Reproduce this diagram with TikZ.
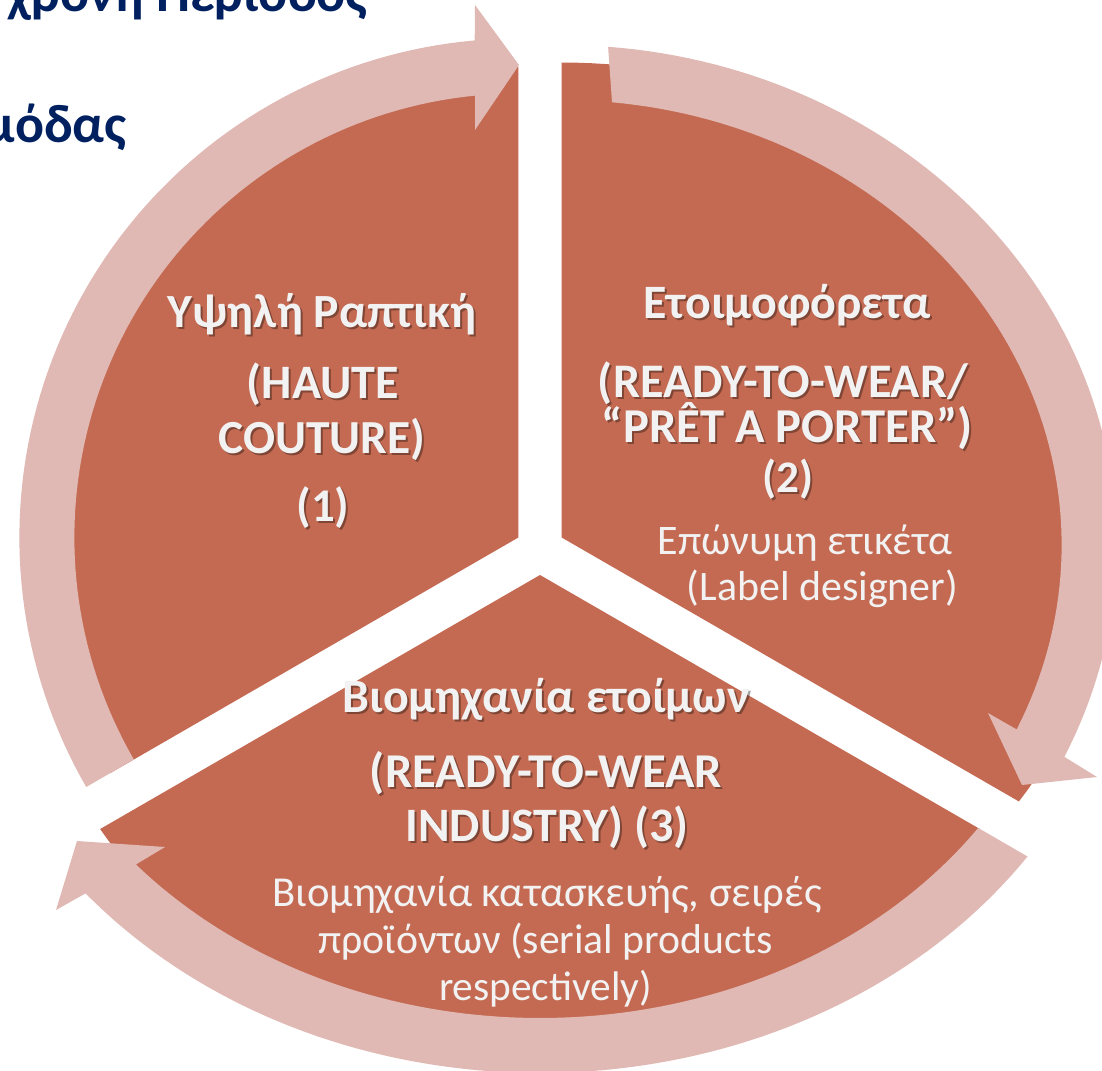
\documentclass[tikz,border=0pt]{standalone}
\usepackage{fontspec}
\setmainfont{Carlito}
\usepackage{graphicx}
\definecolor{sectc}{RGB}{196,106,82}
\definecolor{ringc}{RGB}{224,185,180}
\definecolor{navyc}{RGB}{0,32,96}
\definecolor{txtc}{RGB}{242,242,242}
\newcommand{\fitpx}[2]{\resizebox{#1pt}{!}{#2}}
\tikzset{
 sector/.style={fill=sectc},
 ringarrow/.style={fill=ringc},
 lbl/.style={anchor=base, inner sep=0pt, text=txtc, font=\bfseries},
 lblshadow/.style={anchor=base, inner sep=0pt, text=black, opacity=0.35, font=\bfseries},
 lighttext/.style={anchor=base, inner sep=0pt, text=txtc},
 titletext/.style={anchor=base east, inner sep=0pt, text=navyc, font=\fontsize{40.5}{48}\selectfont\bfseries},
}
\newcommand{\shtext}[5]{%
  \node[lblshadow] (#1s) at ({#2+2},{#3+2}) {\fitpx{#4}{#5}};
  \node[lbl] (#1) at (#2,#3) {\fitpx{#4}{#5}};}
\begin{document}
\begin{tikzpicture}[x=0.75pt,y=-0.75pt]
\path[use as bounding box] (0,0) rectangle (1102,1070);
\clip (0,0) rectangle (1102,1070);
% sectors
\fill[sector] (518.35,537.5) -- plot[domain=150:270,samples=80,variable=\t] ({518.35+471*cos(\t)},{537.5+471*sin(\t)}) -- cycle;
\fill[sector] (561.65,537.5) -- plot[domain=270:393.76,samples=80,variable=\t] ({561.65+550*cos(\t)},{537.5+475*sin(\t)}) -- cycle;
\fill[sector] (540,575) -- plot[domain=32.33:147.67,samples=80,variable=\t] ({540+520.6*cos(\t)},{575+475*sin(\t)}) -- cycle;
% circular arrows
\fill[ringarrow] plot[domain=150:264.98,samples=80,variable=\t] ({518.35+499*cos(\t)},{537.5+499*sin(\t)})
  -- (475,5) -- (519,65) -- (475,130)
  -- plot[domain=264.4:150,samples=80,variable=\t] ({518.35+444*cos(\t)},{537.5+444*sin(\t)}) -- cycle;
\fill[ringarrow] plot[domain=274.80:385.07,samples=80,variable=\t] ({561.65+555*cos(\t)},{545+500*sin(\t)})
  -- (1097,777) -- (1022,785) -- (988,713)
  -- plot[domain=384.49:275.78,samples=80,variable=\t] ({561.65+500*cos(\t)},{545+445*sin(\t)}) -- cycle;
\fill[ringarrow] plot[domain=34.42:140.26,samples=80,variable=\t] ({540+591*cos(\t)},{575+498*sin(\t)})
  -- (56,910) -- (77,841) -- (165,847)
  -- plot[domain=139.2:34.82,samples=80,variable=\t] ({540+533.8*cos(\t)},{575+443*sin(\t)}) -- cycle;
% title (cut off)
\node[titletext] (title1) at (368,12) {χρονη Περίοδος};
\node[titletext] (title2) at (127,143) {μόδας};
% sector 1
\shtext{a1}{322}{327}{231}{Υψηλή Ραπτική}
\shtext{a2}{323}{398}{114}{(HAUTE}
\shtext{a3}{322}{453}{155.25}{COUTURE)}
\shtext{a4}{323}{521}{39.75}{(1)}
% sector 2
\shtext{b1}{787}{318}{215.25}{Ετοιμοφόρετα}
\shtext{b2}{783}{397}{277.5}{(READY-TO-WEAR/}
\shtext{b3}{787.5}{442}{278.25}{“PRÊT A PORTER”)}
\shtext{b4}{788}{492}{38.25}{(2)}
\node[lighttext] (b5) at (805,554) {\fitpx{220.5}{Επώνυμη ετικέτα}};
\node[lighttext] (b6) at (822.5,600) {\fitpx{203.25}{(Label designer)}};
% sector 3
\shtext{c1}{546}{712}{305.25}{Βιομηχανία ετοίμων}
\shtext{c2}{546}{787}{264}{(READY-TO-WEAR}
\shtext{c3}{547}{841}{212.25}{INDUSTRY) (3)}
\node[lighttext] (c4) at (547,906) {\fitpx{411.75}{Βιομηχανία κατασκευής, σειρές}};
\node[lighttext] (c5) at (545.5,953) {\fitpx{340.5}{προϊόντων (serial products}};
\node[lighttext] (c6) at (545.5,1000) {\fitpx{159.75}{respectively)}};
\end{tikzpicture}
\end{document}
